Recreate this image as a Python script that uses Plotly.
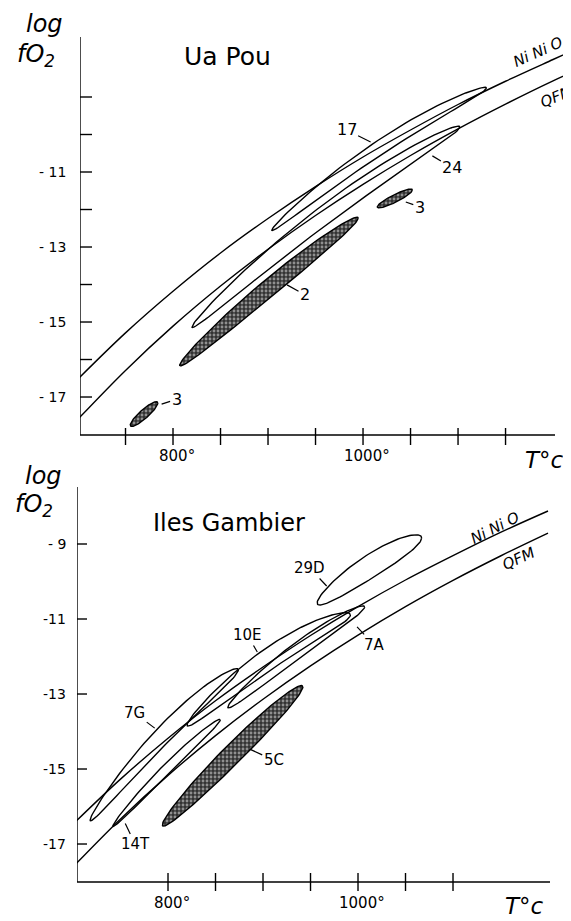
import numpy as np
import plotly.graph_objects as go

# ---------------- data ----------------
# Buffer curves: temperature (deg C) vs log fO2
T_top = [700, 750, 800, 850, 900, 950, 1000, 1050, 1100, 1150, 1200, 1220]
nno_top = [-16.52, -15.29, -14.18, -13.16, -12.24, -11.39, -10.60, -9.88, -9.20, -8.58, -8.00, -7.77]
qfm_top = [-17.59, -16.29, -15.11, -14.04, -13.06, -12.16, -11.33, -10.56, -9.85, -9.19, -8.57, -8.34]

T_bot = [700, 750, 800, 850, 900, 950, 1000, 1050, 1100, 1150, 1200]
nno_bot = [-16.47, -15.27, -14.18, -13.18, -12.28, -11.44, -10.67, -9.96, -9.31, -8.69, -8.12]
qfm_bot = [-17.61, -16.33, -15.17, -14.11, -13.14, -12.25, -11.43, -10.67, -9.97, -9.32, -8.71]

# Ua Pou fields: end points (T, logfO2), half thickness, bow, shaded
up_names = ["17", "24", "2", "3", "3"]
up_T1 = [904, 820, 807, 755, 1015]
up_v1 = [-12.55, -15.13, -16.15, -17.75, -11.93]
up_T2 = [1130, 1102, 995, 784, 1052]
up_v2 = [-8.76, -9.80, -12.23, -17.16, -11.48]
up_h = [0.22, 0.30, 0.29, 0.15, 0.11]
up_bow = [0.30, 0.35, 0.10, 0.0, 0.0]
up_shaded = [False, False, True, True, True]
# label leader end (T, logfO2) and text offset (px)
up_lab_T = [1008, 1073, 920, 1045, 788]
up_lab_v = [-10.20, -10.57, -14.01, -11.80, -17.19]
up_lab_ax = [-24, 20, 18, 14, 15]
up_lab_ay = [-12, 12, 10, 5, -5]

# Iles Gambier fields
ig_names = ["29D", "7A", "10E", "7G", "14T", "5C"]
ig_T1 = [957, 863, 820, 718, 742, 794]
ig_v1 = [-10.57, -13.35, -13.83, -16.36, -16.52, -16.49]
ig_T2 = [1067, 1007, 992, 874, 855, 942]
ig_v2 = [-8.84, -10.68, -10.89, -12.36, -13.69, -12.81]
ig_h = [0.35, 0.25, 0.33, 0.32, 0.18, 0.36]
ig_bow = [0.10, 0.15, 0.30, 0.30, 0.10, 0.05]
ig_shaded = [False, False, False, False, False, True]
ig_lab_T = [967, 999, 894, 786, 755, 886]
ig_lab_v = [-10.12, -11.21, -11.88, -13.91, -16.45, -14.47]
ig_lab_ax = [-17, 17, -10, -20, 10, 24]
ig_lab_ay = [-18, 18, -17, -15, 21, 11]

# axes ticks
top_yticks = [-9, -10, -11, -12, -13, -14, -15, -16, -17]
top_ylabels_v = [-11, -13, -15, -17]
top_ylabels_t = ["- 11", "- 13", "- 15", "- 17"]
top_xticks = [750, 800, 850, 900, 950, 1000, 1050, 1100, 1150]
bot_yticks = [-9, -11, -13, -15, -17]
bot_ylabels_t = ["- 9", "-11", "-13", "-15", "-17"]
bot_xticks = [800, 850, 900, 950, 1000, 1050, 1100]
xlabels_v = [800, 1000]
xlabels_t = ["800°", "1000°"]

FONT = "DejaVu Sans"
OFF = 8                      # page body margin of the html page
W, H = 571 - OFF, 921 - OFF  # figure size so that it fills the window


def loop(T1, v1, T2, v2, h, bow, n=120):
    t = np.linspace(0, 2 * np.pi, n)
    cx, cy = (T1 + T2) / 2, (v1 + v2) / 2
    dx, dy = (T2 - T1) / 2, (v2 - v1) / 2
    x = cx + np.cos(t) * dx
    y = cy + np.cos(t) * dy + h * np.sin(t) + bow * np.sin(t) ** 2
    return x, y


fig = go.Figure()


def add_line(T, v, xa, ya):
    fig.add_trace(go.Scatter(x=T, y=v, mode="lines", xaxis=xa, yaxis=ya,
                             line=dict(color="black", width=1.4, shape="spline", smoothing=1.0),
                             hoverinfo="skip", showlegend=False))


def add_field(T1, v1, T2, v2, h, bow, shaded, xa, ya):
    x, y = loop(T1, v1, T2, v2, h, bow)
    kw = {}
    if shaded:
        kw = dict(fill="toself", fillcolor="#444444",
                  fillpattern=dict(shape=".", fgcolor="#eeeeee", bgcolor="#333333",
                                   size=4, solidity=0.4))
    fig.add_trace(go.Scatter(x=x, y=y, mode="lines", xaxis=xa, yaxis=ya,
                             line=dict(color="black", width=1.4),
                             hoverinfo="skip", showlegend=False, **kw))


add_line(T_top, nno_top, "x", "y")
add_line(T_top, qfm_top, "x", "y")
add_line(T_bot, nno_bot, "x2", "y2")
add_line(T_bot, qfm_bot, "x2", "y2")

for i in range(len(up_names)):
    add_field(up_T1[i], up_v1[i], up_T2[i], up_v2[i], up_h[i], up_bow[i], up_shaded[i], "x", "y")
for i in range(len(ig_names)):
    add_field(ig_T1[i], ig_v1[i], ig_T2[i], ig_v2[i], ig_h[i], ig_bow[i], ig_shaded[i], "x2", "y2")


def px(x):
    return (x - OFF) / W


def py(y):
    return 1 - (y - OFF) / H


# ---------------- layout ----------------
top_xr = [702.1, 1218.9]
bot_xr = [704.2, 1202.1]
ax_common = dict(visible=False, showgrid=False, zeroline=False, fixedrange=True)
fig.update_layout(
    width=W, height=H, margin=dict(l=0, r=0, t=0, b=0),
    paper_bgcolor="white", plot_bgcolor="white",
    font=dict(family=FONT, color="black"),
    xaxis=dict(domain=[px(80), 1.0], range=top_xr, anchor="y", **ax_common),
    yaxis=dict(domain=[py(435), py(37)], range=[-18.013, -7.40], anchor="x", **ax_common),
    xaxis2=dict(domain=[px(77), px(550)], range=bot_xr, anchor="y2", **ax_common),
    yaxis2=dict(domain=[py(882), py(487)], range=[-18.013, -7.48], anchor="x2", **ax_common),
)

shapes = []
LW = 1.4
# axis lines
for xr, xa, ya, xend in [(top_xr, "x", "y", 1202.1), (bot_xr, "x2", "y2", 1202.1)]:
    shapes.append(dict(type="line", xref=xa, yref=ya + " domain", x0=xr[0], x1=xr[0], y0=0, y1=1,
                       line=dict(color="black", width=LW)))
    shapes.append(dict(type="line", xref=xa, yref=ya + " domain", x0=xr[0], x1=xend, y0=0, y1=0,
                       line=dict(color="black", width=LW)))
# crossing ticks
for v in top_yticks:
    shapes.append(dict(type="line", xref="x", xsizemode="pixel", xanchor=top_xr[0], x0=-10, x1=12,
                       yref="y", y0=v, y1=v, line=dict(color="black", width=LW)))
for T in top_xticks:
    shapes.append(dict(type="line", yref="y domain", ysizemode="pixel", yanchor=0, y0=-10, y1=7,
                       xref="x", x0=T, x1=T, line=dict(color="black", width=LW)))
for v in bot_yticks:
    shapes.append(dict(type="line", xref="x2", xsizemode="pixel", xanchor=bot_xr[0], x0=-12, x1=10,
                       yref="y2", y0=v, y1=v, line=dict(color="black", width=LW)))
for T in bot_xticks:
    shapes.append(dict(type="line", yref="y2 domain", ysizemode="pixel", yanchor=0, y0=-9, y1=9,
                       xref="x2", x0=T, x1=T, line=dict(color="black", width=LW)))
fig.update_layout(shapes=shapes)

ann = []
# tick labels
for v, t in zip(top_ylabels_v, top_ylabels_t):
    ann.append(dict(xref="x domain", x=0, xshift=-12, yref="y", y=v, text=t, showarrow=False,
                    xanchor="right", yanchor="middle", font=dict(size=14)))
for v, t in zip(bot_yticks, bot_ylabels_t):
    ann.append(dict(xref="x2 domain", x=0, xshift=-9, yref="y2", y=v, text=t, showarrow=False,
                    xanchor="right", yanchor="middle", font=dict(size=14)))
for xa, ya in [("x", "y"), ("x2", "y2")]:
    for T, t in zip(xlabels_v, xlabels_t):
        ann.append(dict(xref=xa, x=T, xshift=4, yref=ya + " domain", y=0, yshift=-21, text=t,
                        showarrow=False, xanchor="center", yanchor="middle", font=dict(size=15)))

# axis titles and panel titles (paper coords from pixel positions)
for (x0, y0), txt, sz, anc in [((44, 24), "<i>log</i>", 24, "center"),
                               ((36, 55), "<i>fO<sub>2</sub></i>", 24, "center"),
                               ((43, 476), "<i>log</i>", 24, "center"),
                               ((34, 505), "<i>fO<sub>2</sub></i>", 24, "center"),
                               ((566, 460), "<i>T°c</i>", 23, "right"),
                               ((546, 906), "<i>T°c</i>", 23, "right"),
                               ((227, 57), "Ua Pou", 25, "center"),
                               ((229, 523), "Iles Gambier", 24, "center")]:
    ann.append(dict(xref="paper", yref="paper", x=px(x0), y=py(y0), text=txt, showarrow=False,
                    xanchor=anc, yanchor="middle", font=dict(size=sz)))

# buffer labels
for (x0, y0), txt, ang in [((538, 52), "<i>Ni Ni O</i>", -24), ((556, 97), "<i>QFM</i>", -22),
                           ((495, 528), "<i>Ni Ni O</i>", -27), ((518, 559), "<i>QFM</i>", -25)]:
    ann.append(dict(xref="paper", yref="paper", x=px(x0), y=py(y0), text=txt, showarrow=False,
                    textangle=ang, xanchor="center", yanchor="middle", font=dict(size=15)))

# field labels with leaders
for names, Ts, vs, axs, ays, xa, ya, fs in [
        (up_names, up_lab_T, up_lab_v, up_lab_ax, up_lab_ay, "x", "y", 16),
        (ig_names, ig_lab_T, ig_lab_v, ig_lab_ax, ig_lab_ay, "x2", "y2", 15)]:
    for nm, T, v, a1, a2 in zip(names, Ts, vs, axs, ays):
        ann.append(dict(xref=xa, yref=ya, x=T, y=v, text=nm, showarrow=True, arrowhead=0,
                        arrowwidth=1.2, arrowcolor="black", ax=a1, ay=a2, standoff=0,
                        font=dict(size=fs)))

fig.update_layout(annotations=ann)
fig.write_html("out.html")
